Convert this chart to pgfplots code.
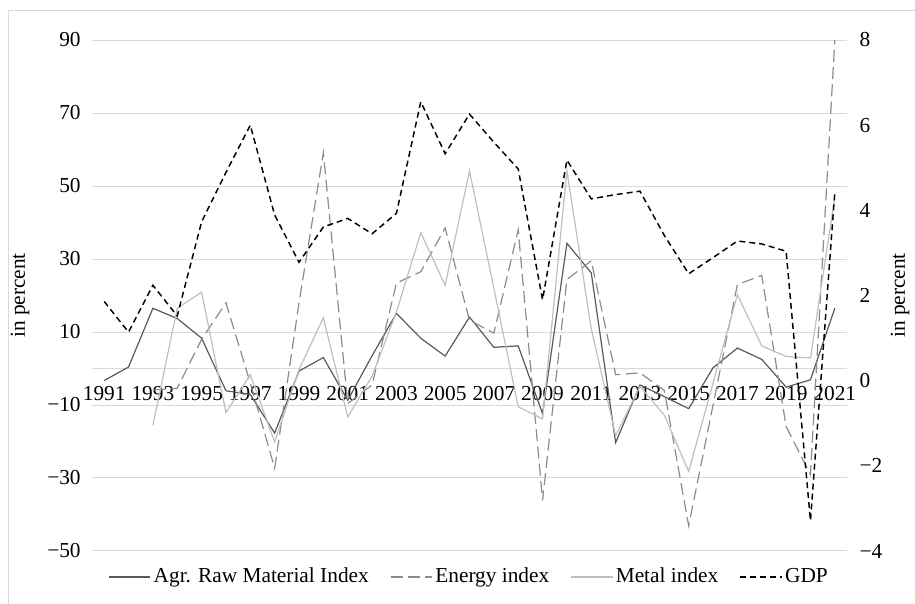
\documentclass[border=0pt]{standalone}
\usepackage{fontspec}
\setmainfont{Liberation Serif}
\usepackage{pgfplots}
\usepackage{pgfplotstable}
\pgfplotsset{compat=1.18}
\definecolor{agr}{HTML}{595959}
\definecolor{energy}{HTML}{8C8C8C}
\definecolor{metal}{HTML}{BFBFBF}
\definecolor{gridc}{HTML}{D9D9D9}

\pgfplotstableread{
x y
0 -3.3
1 0.4
2 16.5
3 13.7
4 8.3
5 -6.1
6 -7.1
7 -17.7
8 -0.7
9 3.0
10 -8.7
11 3.5
12 15.1
13 8.3
14 3.4
15 14.1
16 5.8
17 6.2
18 -12.4
19 34.3
20 26.2
21 -20.3
22 -4.5
23 -7.7
24 -11.0
25 0.2
26 5.6
27 2.5
28 -5.1
29 -3.1
30 16.5
}\agrtable

\pgfplotstableread{
x y
2 -5.9
3 -5.4
4 8
5 18
6 -4
7 -27.3
8 18
9 59.1
10 -9.6
11 -4.5
12 23.4
13 26.5
14 38.5
15 13.2
16 9.7
17 38
18 -36.1
19 24.4
20 29.5
21 -1.7
22 -1.2
23 -6
24 -43.1
25 -10
26 23
27 25.5
28 -15.9
29 -29.1
30 90
}\energytable

\pgfplotstableread{
x y
2 -15.6
3 16.5
4 20.9
5 -12.1
6 -1.7
7 -20.1
8 -0.3
9 13.9
10 -13.3
11 -2.1
12 15.5
13 37.2
14 22.8
15 54.1
16 22
17 -10.5
18 -13.8
19 54.1
20 10.9
21 -18.4
22 -4.9
23 -12.8
24 -28.2
25 -4
26 20.2
27 6.2
28 3.3
29 2.9
30 47
}\metaltable

\pgfplotstableread{
x y
0 1.86
1 1.14
2 2.24
3 1.52
4 3.73
5 4.89
6 6.0
7 3.89
8 2.78
9 3.61
10 3.81
11 3.45
12 3.93
13 6.55
14 5.33
15 6.26
16 5.6
17 4.97
18 1.90
19 5.18
20 4.27
21 4.37
22 4.45
23 3.41
24 2.51
25 2.89
26 3.28
27 3.21
28 3.04
29 -3.29
30 4.43
}\gdptable

\pgfplotsset{
  common/.style={
    scale only axis,
    width=566.25pt, height=383.25pt,
    at={(69pt,39.75pt)}, anchor=south west,
    xmin=-0.5, xmax=30.5,
    major tick length=0pt,
    tick label style={font=\fontsize{16}{19}\selectfont},
    label style={font=\fontsize{16}{19}\selectfont},
  }
}

\begin{document}
\fontsize{16}{19}\selectfont
\begin{tikzpicture}
\useasboundingbox (0,0) rectangle (686.25pt,453pt);
\draw[gridc, line width=0.75pt] (6pt,0pt) -- (6pt,444.75pt) -- (686.25pt,444.75pt);

\begin{axis}[common,
  ymin=-50, ymax=90,
  ytick={-50,-30,-10,10,30,50,70,90},
  yticklabels={−50,−30,−10,10,30,50,70,90},
  ymajorgrids,
  grid style={gridc, line width=0.75pt},
  axis x line*=middle,
  x axis line style={-, draw=gridc, line width=0.75pt},
  axis y line*=left,
  y axis line style={draw=none},
  xtick={0,2,...,30},
  xticklabels={1991,1993,1995,1997,1999,2001,2003,2005,2007,2009,2011,2013,2015,2017,2019,2021},
  xticklabel style={yshift=-8pt},
  yticklabel style={xshift=-3pt},
  ylabel={in percent},
  every axis y label/.style={at={(axis description cs:-0.0954,0.5)}, rotate=90, anchor=center},
]
\addplot[agr, line width=0.9pt] table[x=x,y=y] {\agrtable};
\addplot[energy, line width=0.9pt, dash pattern=on 9pt off 4pt] table[x=x,y=y] {\energytable};
\addplot[metal, line width=0.9pt] table[x=x,y=y] {\metaltable};
\end{axis}

\begin{axis}[common,
  ymin=-4, ymax=8,
  ytick={-4,-2,0,2,4,6,8},
  yticklabels={−4,−2,0,2,4,6,8},
  axis x line=none,
  axis y line*=right,
  y axis line style={draw=none},
  yticklabel style={xshift=4pt},
  ylabel={in percent},
  every axis y label/.style={at={(axis description cs:1.0702,0.5)}, rotate=90, anchor=center},
  legend style={at={(axis description cs:0.5,-0.0509)}, anchor=center, draw=none, fill=none,
    font=\fontsize{16}{19}\selectfont,
    /tikz/every even column/.append style={column sep=14pt}},
  legend columns=4,
  legend cell align=left,
  legend image code/.code={\draw[#1] (0pt,0pt) -- (31pt,0pt);},
]
\addlegendimage{agr, line width=0.9pt}
\addlegendentry{Agr. Raw Material Index}
\addlegendimage{energy, line width=0.9pt, dash pattern=on 9pt off 4pt}
\addlegendentry{Energy index}
\addlegendimage{metal, line width=0.9pt}
\addlegendentry{Metal index}
\addplot[black, line width=1.1pt, dash pattern=on 4.5pt off 3pt] table[x=x,y=y] {\gdptable};
\addlegendentry{GDP}
\end{axis}
\end{tikzpicture}
\end{document}
